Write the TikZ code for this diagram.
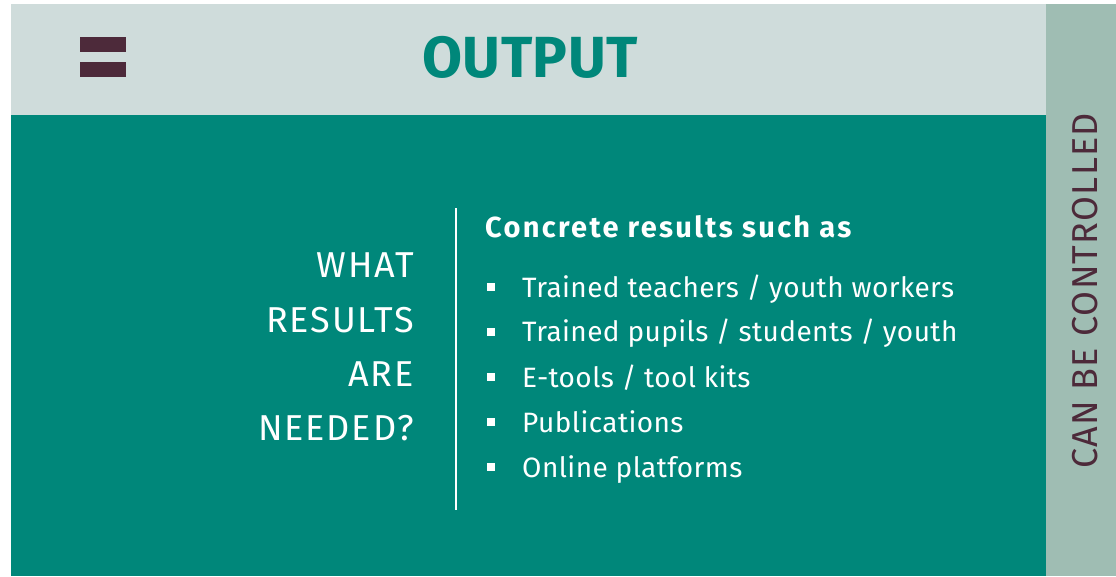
\documentclass[tikz,border=0pt]{standalone}
\usepackage{fontspec}
\setmainfont{Fira Sans}
\definecolor{outputgreen}{HTML}{00877A}
\definecolor{bandgrey}{HTML}{CFDCDB}
\definecolor{stripgreen}{HTML}{9FBDB3}
\definecolor{barpurple}{HTML}{4D2A3A}

\begin{document}
\begin{tikzpicture}[x=1pt, y=-1pt,
    question/.style={anchor=base east, inner sep=0pt, text=white, font=\fontsize{36}{36}\selectfont\addfontfeatures{LetterSpace=5}},
    item/.style={anchor=base west, inner sep=0pt, text=white, font=\fontsize{28}{28}\selectfont\addfontfeatures{LetterSpace=1.5}},
    bullet/.style={fill=white, minimum size=8pt, inner sep=0pt}]
        \useasboundingbox (0,0) rectangle (1116,576);
        \fill[white] (0,0) rectangle (1116,576);
        \fill[bandgrey] (11,4) rectangle (1046,115);
        \fill[outputgreen] (11,115) rectangle (1046,576);
        \fill[stripgreen] (1046,4) rectangle (1116,576);

        \fill[barpurple] (80,37) rectangle (126,52);
        \fill[barpurple] (80,62) rectangle (126,77);
        \node[anchor=base, inner sep=0pt, text=outputgreen, font=\fontsize{58}{58}\selectfont\bfseries\addfontfeatures{LetterSpace=1}] (title) at (530,77) {OUTPUT};

        \node[question] (what) at (414,277) {WHAT};
        \node[question] (results) at (414,332) {RESULTS};
        \node[question] (are) at (414,386) {ARE};
        \node[question] (needed) at (414,440) {NEEDED?};

        \draw[white, line width=1.5pt] (456,208) -- (456,510);

        \node[anchor=base west, inner sep=0pt, text=white, font=\fontsize{29}{29}\selectfont\bfseries\addfontfeatures{LetterSpace=8}] (head) at (485,237) {Concrete results such as};
        \node[bullet] (b1) at (491,287) {};
        \node[item] (teachers) at (522,297) {Trained teachers / youth workers};
        \node[bullet] (b2) at (491,332) {};
        \node[item] (pupils) at (522,341) {Trained pupils / students / youth};
        \node[bullet] (b3) at (491,377) {};
        \node[item] (tools) at (522,387) {E-tools / tool kits};
        \node[bullet] (b4) at (491,422) {};
        \node[item] (pubs) at (522,432) {Publications};
        \node[bullet] (b5) at (491,467) {};
        \node[item] (online) at (522,477) {Online platforms};

        \node[rotate=90, inner sep=0pt, text=barpurple, font=\fontsize{36}{36}\selectfont\addfontfeatures{LetterSpace=3.6}] (side) at (1085,291) {CAN BE CONTROLLED};
    \end{tikzpicture}
\end{document}
